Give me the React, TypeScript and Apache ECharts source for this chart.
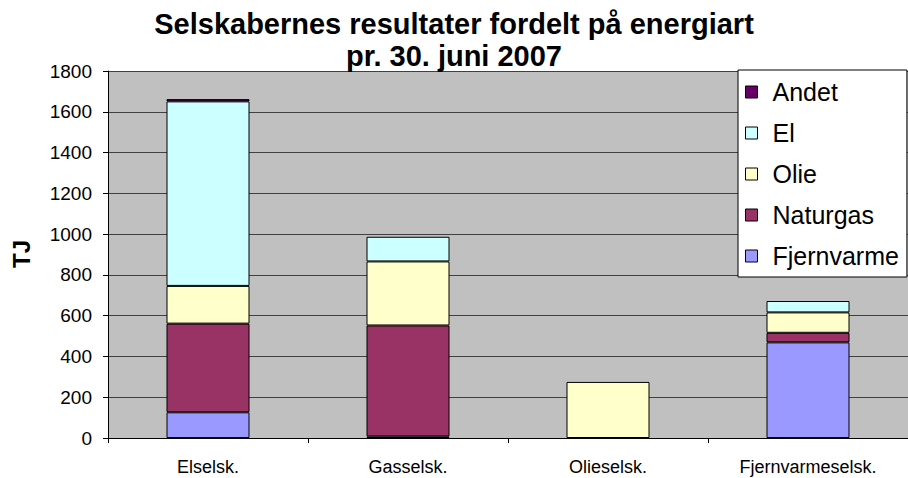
import React, { useEffect, useRef } from "react";
import * as echarts from "echarts";

const categories = ["Elselsk.", "Gasselsk.", "Olieselsk.", "Fjernvarmeselsk."];
const fjernvarme = [126, 8, null, 469];
const naturgas = [435, 544, null, 47];
const olie = [185, 314, 275, 100];
const el = [905, 121, null, 56];
const andet = [11, null, null, null];
const legendOrder = ["Andet", "El", "Olie", "Naturgas", "Fjernvarme"];

const FONT = "Arial, 'Liberation Sans', sans-serif";

export default function App() {
  const ref = useRef<HTMLDivElement>(null);
  useEffect(() => {
    document.body.style.margin = "0";
    const chart = echarts.init(ref.current!, null, { renderer: "svg" });
    const mk = (name: string, data: any[], color: string) => ({
      name,
      type: "bar",
      stack: "total",
      data,
      barWidth: 83,
      itemStyle: { color, borderColor: "#000", borderWidth: 1 },
    });
    chart.setOption({
      animation: false,
      backgroundColor: "#fff",
      textStyle: { fontFamily: FONT },
      title: {
        text: "Selskabernes resultater fordelt på energiart\npr. 30. juni 2007",
        left: "center",
        top: 3,
        textStyle: { fontSize: 29, fontWeight: "bold", color: "#000", lineHeight: 32, fontFamily: FONT },
      },
      legend: {
        orient: "vertical",
        left: 738,
        top: 70,
        data: legendOrder,
        backgroundColor: "#fff",
        borderColor: "#000",
        borderWidth: 1,
        borderRadius: 0,
        padding: [9, 8, 8, 7],
        itemGap: 15,
        itemWidth: 12,
        itemHeight: 12,
        icon: "rect",
        itemStyle: { borderColor: "#000", borderWidth: 1 },
        textStyle: { fontSize: 25, color: "#000", lineHeight: 26, fontFamily: FONT, padding: [0, 0, 0, 10] },
      },
      grid: { left: 108, top: 71, width: 808, bottom: 40, backgroundColor: "#C0C0C0", show: true, borderWidth: 0 },
      xAxis: {
        type: "category",
        data: categories,
        axisLine: { lineStyle: { color: "#000", width: 1 } },
        axisTick: { show: true, length: 5, lineStyle: { color: "#000" } },
        axisLabel: { color: "#000", fontSize: 18, margin: 20, fontFamily: FONT },
      },
      yAxis: {
        type: "value",
        min: 0,
        max: 1800,
        interval: 200,
        axisLine: { show: true, lineStyle: { color: "#000", width: 1 } },
        axisTick: { show: true, length: 5, lineStyle: { color: "#000" } },
        axisLabel: { color: "#000", fontSize: 19, margin: 16, fontFamily: FONT, formatter: (v: number) => String(v) },
        splitLine: { show: true, lineStyle: { color: "#404040", width: 1 } },
      },
      graphic: [
        {
          type: "text",
          x: 21,
          y: 254,
          rotation: Math.PI / 2,
          style: { text: "TJ", font: `bold 24px ${FONT}`, fill: "#000", align: "center", verticalAlign: "middle" },
        },
      ],
      series: [
        mk("Fjernvarme", fjernvarme, "#9999FF"),
        mk("Naturgas", naturgas, "#993366"),
        mk("Olie", olie, "#FFFFCC"),
        mk("El", el, "#CCFFFF"),
        mk("Andet", andet, "#660066"),
      ],
    });
    return () => chart.dispose();
  }, []);
  return <div ref={ref} style={{ width: 908, height: 478 }} />;
}
